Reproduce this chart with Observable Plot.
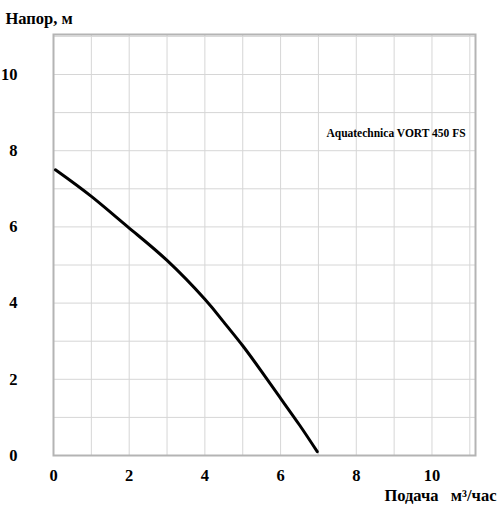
<!DOCTYPE html>
<html>
<head>
<meta charset="utf-8">
<script src="https://cdn.jsdelivr.net/npm/d3@7"></script>
<script src="https://cdn.jsdelivr.net/npm/@observablehq/plot@0.6"></script>
<style>
  body { margin: 0; background: #fff; }
</style>
</head>
<body>
<div id="chart"></div>
<script>
// curva Q-H
const podacha = [0.05, 1, 2, 3, 4, 4.5, 5, 5.5, 6, 6.5, 6.97]
const napor = [7.5, 6.8, 5.97, 5.12, 4.1, 3.5, 2.88, 2.2, 1.5, 0.8, 0.1]
const ticksX = [0, 2, 4, 6, 8, 10]
const ticksY = [0, 2, 4, 6, 8, 10]
const grid = d3.range(0, 12)
const model = ["Aquatechnica VORT 450 FS"]

const data = podacha.map((q, i) => ({q: q, h: napor[i]}))

let chart = Plot.plot({
  width: 499,
  height: 508,
  marginLeft: 53,
  marginRight: 24,
  marginTop: 34,
  marginBottom: 53,
  style: {fontFamily: "'Liberation Serif', serif", fontWeight: "bold", fontSize: "16.5px", color: "#000"},
  x: {domain: [0, 11.15], ticks: ticksX, tickSize: 0, tickPadding: 14, label: null},
  y: {domain: [0, 11.05], ticks: ticksY, tickSize: 0, tickPadding: 36, label: null},
  marks: [
    Plot.gridX(grid, {stroke: "#d6d6d6", strokeOpacity: 1, strokeWidth: 1}),
    Plot.gridY(grid, {stroke: "#d6d6d6", strokeOpacity: 1, strokeWidth: 1}),
    Plot.frame({stroke: "#b4b4b4", strokeWidth: 2}),
    Plot.line(data, {x: "q", y: "h", stroke: "#000", strokeWidth: 3, curve: "natural"}),
    Plot.text(model, {x: 9.05, y: 8.45, text: d => d, fontSize: 11.5, fontWeight: "bold"}),
    Plot.text(["Напор, м"], {frameAnchor: "top-left", dx: -48, dy: -22, text: d => d, textAnchor: "start", fontSize: 16.5}),
    Plot.text(["Подача   м³/час"], {frameAnchor: "bottom-right", dx: 21, dy: 45, text: d => d, textAnchor: "end", fontSize: 16.5})
  ]
})

d3.select('#chart').append(() => chart)
</script>
</body>
</html>
